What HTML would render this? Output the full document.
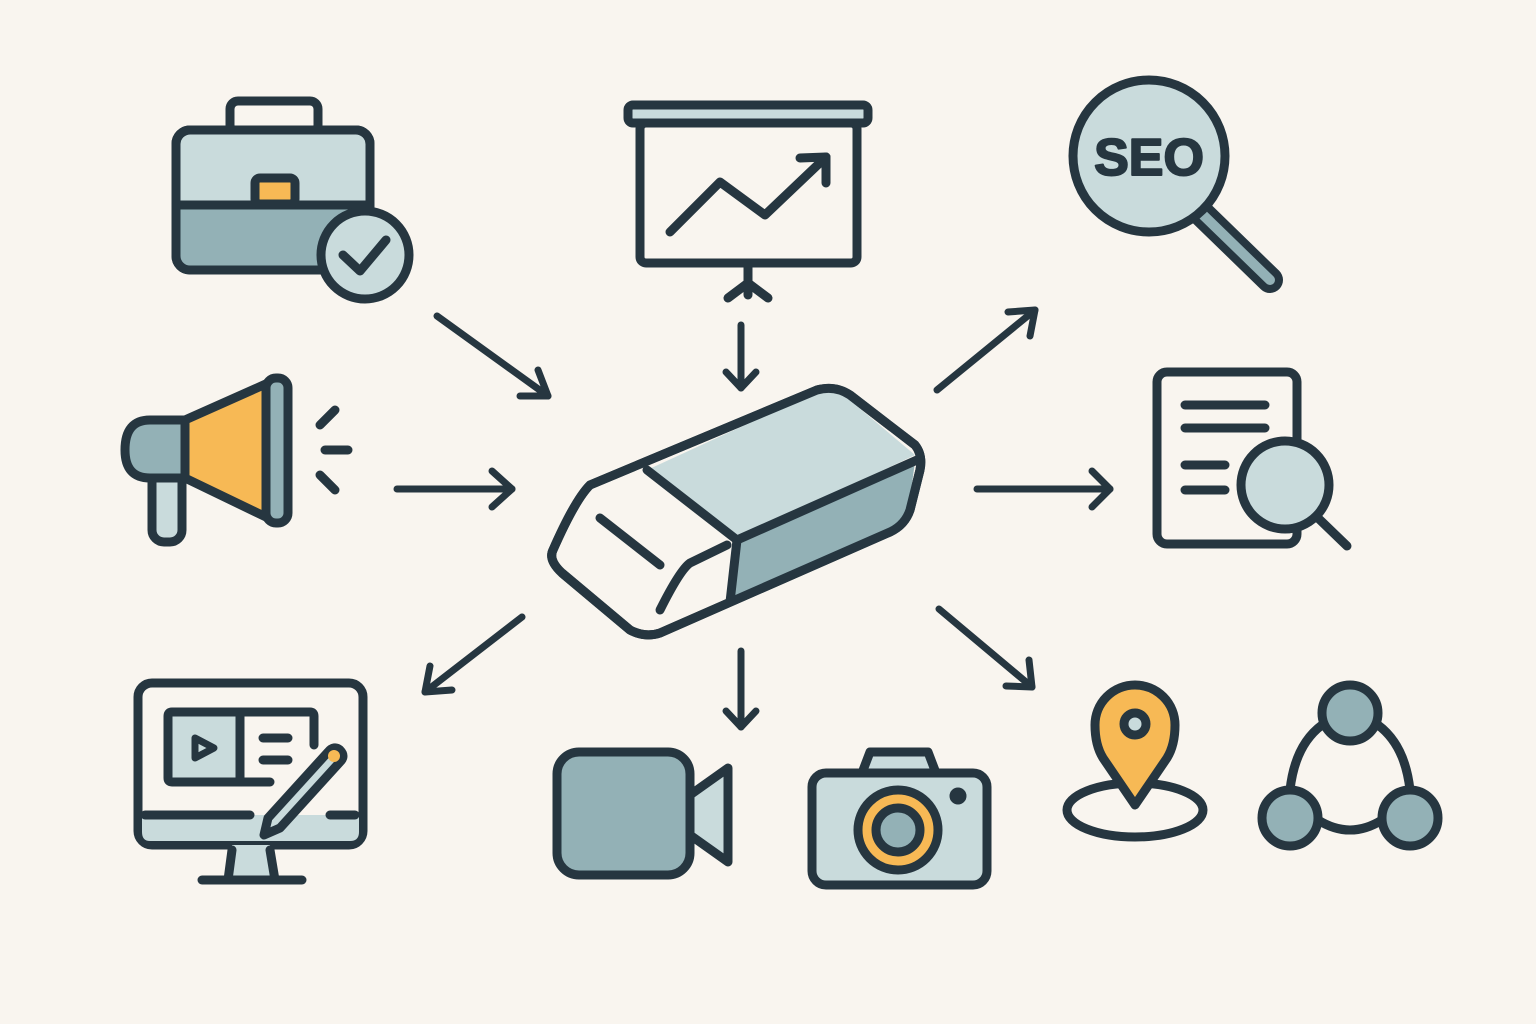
<!DOCTYPE html>
<html><head><meta charset="utf-8"><style>
html,body{margin:0;padding:0;background:#f9f5ef;}
svg{display:block}
</style></head><body>
<svg width="1536" height="1024" viewBox="0 0 1536 1024" xmlns="http://www.w3.org/2000/svg">
<rect width="1536" height="1024" fill="#f9f5ef"/>
<g fill="none" stroke="#263640" stroke-width="9" stroke-linecap="round" stroke-linejoin="round">

<!-- Arrows -->
<g stroke-width="7">
<path d="M437,316 L548,396"/><path d="M548,396 L520,396 M548,396 L538,370"/>
<path d="M397,489 L512,489"/><path d="M512,489 L492,471 M512,489 L492,507"/>
<path d="M741,325 L741,388"/><path d="M741,388 L726,372 M741,388 L756,372"/>
<path d="M937,390 L1035,310"/><path d="M1035,310 L1008,312 M1035,310 L1030,336"/>
<path d="M977,489 L1110,489"/><path d="M1110,489 L1092,471 M1110,489 L1092,507"/>
<path d="M522,617 L425,692"/><path d="M425,692 L452,690 M425,692 L430,666"/>
<path d="M741,651 L741,727"/><path d="M741,727 L726,711 M741,727 L756,711"/>
<path d="M939,609 L1032,687"/><path d="M1032,687 L1006,686 M1032,687 L1029,660"/>
</g>

<!-- Briefcase -->
<rect x="230" y="101" width="88" height="32" rx="8"/>
<rect x="176" y="130" width="194" height="140" rx="14" fill="#c9dbdc"/>
<path d="M180,205 L366,205 L366,256 Q366,266 356,266 L190,266 Q180,266 180,256 Z" fill="#93b1b6" stroke="none"/>
<rect x="176" y="130" width="194" height="140" rx="14"/>
<line x1="176" y1="205" x2="370" y2="205"/>
<rect x="255" y="178" width="40" height="26" rx="5" fill="#f7b955"/>
<circle cx="365" cy="255" r="44" fill="#c9dbdc"/>
<path d="M343,255 L360,271 L386,240"/>

<!-- Presentation board -->
<rect x="628" y="105" width="240" height="18" rx="5" fill="#c9dbdc"/>
<rect x="640" y="123" width="217" height="140" rx="6" fill="#f9f5ef"/>
<path d="M670,232 L720,182 L765,215 L826,157"/>
<path d="M826,157 L800,158 M826,157 L826,183"/>
<line x1="748" y1="263" x2="748" y2="295"/>
<path d="M728,298 L748,283 L768,298"/>

<!-- SEO -->
<path d="M1200,212 L1270,280" stroke-width="26"/>
<path d="M1200,212 L1270,280" stroke="#93b1b6" stroke-width="10"/>
<circle cx="1149" cy="156" r="76" fill="#c9dbdc"/>
<text x="1149" y="175" text-anchor="middle" font-family="Liberation Sans, sans-serif" font-weight="bold" font-size="52" fill="#263640" stroke="#263640" stroke-width="2">SEO</text>

<!-- Megaphone -->
<rect x="152" y="470" width="30" height="72" rx="12" fill="#c9dbdc"/>
<path d="M185,420 L150,420 Q125,420 125,450 Q125,478 150,478 L185,478 Z" fill="#93b1b6"/>
<path d="M185,420 L268,383 L268,518 L185,478 Z" fill="#f7b955"/>
<rect x="266" y="378" width="22" height="145" rx="10" fill="#93b1b6"/>
<line x1="185" y1="420" x2="185" y2="478"/>
<path d="M320,425 L335,410 M325,450 L348,450 M320,475 L335,490"/>

<!-- Document -->
<rect x="1157" y="372" width="140" height="172" rx="10" fill="#f9f5ef"/>
<path d="M1185,405 L1265,405 M1185,428 L1265,428 M1185,465 L1225,465 M1185,490 L1225,490"/>
<line x1="1318" y1="518" x2="1347" y2="546"/>
<circle cx="1285" cy="485" r="44" fill="#c9dbdc"/>

<!-- Eraser -->
<path d="M553,550 Q575,500 590,485 L817,390 Q835,385 850,395 L915,445 Q923,455 920,470 L910,510 Q905,525 890,532 L660,633 Q645,638 630,630 L562,573 Q548,560 553,550 Z" fill="#f9f5ef"/>
<path d="M647,470 L817,392 Q835,388 845,396 L915,455 L737,540 Z" fill="#c9dbdc" stroke="none"/>
<path d="M737,540 L915,462 L908,512 Q904,522 890,530 L730,602 Z" fill="#93b1b6" stroke="none"/>
<path d="M553,550 Q575,500 590,485 L817,390 Q835,385 850,395 L915,445 Q923,455 920,470 L910,510 Q905,525 890,532 L660,633 Q645,638 630,630 L562,573 Q548,560 553,550 Z"/>
<path d="M647,470 L737,540 L917,460"/>
<path d="M737,540 L730,602"/>
<path d="M727,545 L690,563 Q680,570 660,610"/>
<path d="M600,518 L660,565"/>

<!-- Monitor -->
<rect x="138" y="683" width="225" height="162" rx="14" fill="#f9f5ef"/>
<path d="M142,815 L359,815 L359,832 Q359,841 350,841 L150,841 Q142,841 142,832 Z" fill="#c9dbdc" stroke="none"/>
<path d="M145,815 L250,815 M330,815 L355,815"/>
<path d="M232,845 L228,880 L275,880 L270,845" fill="#c9dbdc" stroke="none"/>
<path d="M232,850 L228,880 M270,850 L275,880"/>
<line x1="202" y1="880" x2="302" y2="880"/>
<rect x="168" y="712" width="72" height="70" fill="#c9dbdc" stroke="none"/>
<path d="M270,782 L172,782 Q168,782 168,778 L168,716 Q168,712 172,712 L310,712 Q314,712 314,716 L314,745"/>
<line x1="240" y1="712" x2="240" y2="782"/>
<path d="M195,738 L195,758 L214,748 Z" stroke-width="7"/>
<path d="M263,738 L288,738 M263,760 L288,760"/>
<path d="M340,762 L280,828 L264,835 L268,818 L328,752 Q334,745 340,750 Q346,756 340,762 Z" fill="#c9dbdc"/>
<circle cx="334" cy="756" r="6" fill="#f7b955" stroke="none"/>

<!-- Video camera -->
<rect x="557" y="752" width="133" height="123" rx="22" fill="#93b1b6"/>
<path d="M690,795 L728,768 L728,862 L690,835 Z" fill="#c9dbdc"/>

<!-- Photo camera -->
<path d="M862,773 L870,752 L928,752 L936,773" fill="#c9dbdc"/>
<rect x="812" y="773" width="175" height="112" rx="14" fill="#c9dbdc"/>
<circle cx="898" cy="830" r="40" fill="#f7b955"/>
<circle cx="898" cy="830" r="22" fill="#93b1b6"/>
<circle cx="958" cy="796" r="4" fill="#263640"/>

<!-- Location pin -->
<ellipse cx="1135" cy="810" rx="68" ry="27"/>
<path d="M1135,805 L1103,758 Q1095,745 1095,725 A40,40 0 0 1 1175,725 Q1175,745 1167,758 Z" fill="#f7b955"/>
<circle cx="1135" cy="724" r="11" fill="#c9dbdc"/>

<!-- Network -->
<path d="M1322,725 Q1295,745 1290,790 M1378,725 Q1405,745 1410,790 M1318,820 Q1350,840 1382,820"/>
<circle cx="1350" cy="713" r="28" fill="#93b1b6"/>
<circle cx="1290" cy="818" r="28" fill="#93b1b6"/>
<circle cx="1410" cy="818" r="28" fill="#93b1b6"/>
</g>
</svg>
</body></html>
